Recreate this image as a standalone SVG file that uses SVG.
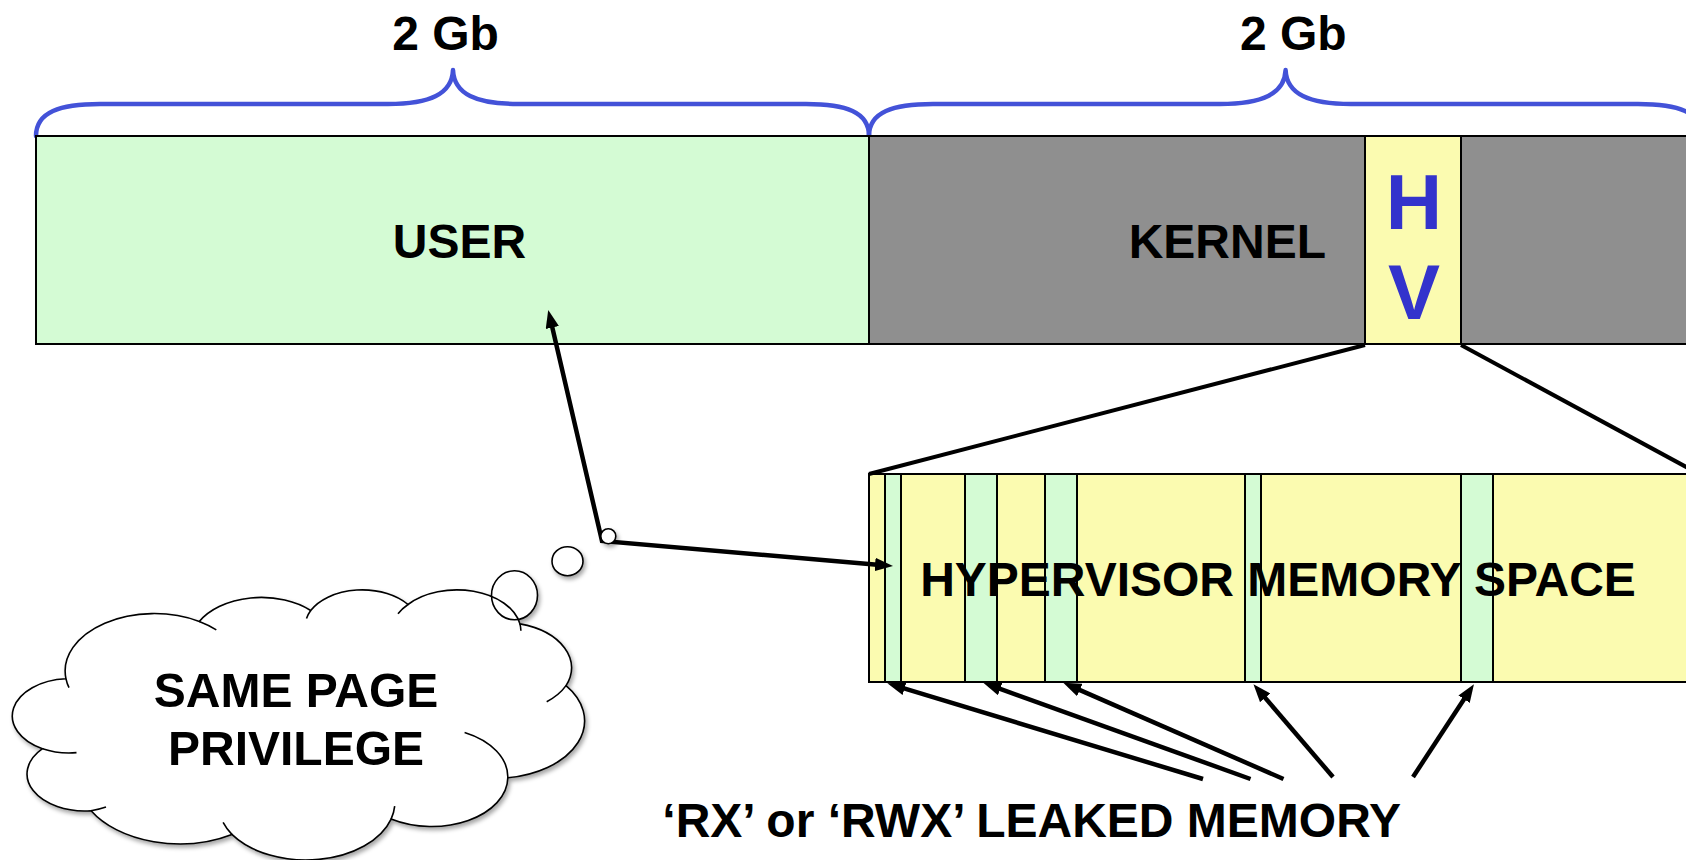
<svg xmlns="http://www.w3.org/2000/svg" width="1686" height="860" viewBox="0 0 1686 860">
  <style>
    .lbl { font-family: "Liberation Sans", Arial, Helvetica, sans-serif; font-weight: bold; font-size: 48px; fill: #000; }
    .hv { font-family: "Liberation Sans", Arial, Helvetica, sans-serif; font-weight: bold; font-size: 78px; fill: #3333cc; text-anchor: middle; }
    .mid { text-anchor: middle; }
    .brace { fill: none; stroke: #4352d8; stroke-width: 4.5; stroke-linecap: round; stroke-linejoin: round; }
    .region { stroke: #000; stroke-width: 2; }
    .user { fill: #d4fbd4; }
    .kernel { fill: #8f8f8f; }
    .hvfill { fill: #fbfbb0; }
    .leak { fill: #d4fbd4; stroke: #000; stroke-width: 2; }
    .zoomline { fill: none; stroke: #000; stroke-width: 4; }
    .arrow { fill: none; stroke: #000; stroke-width: 4.5; stroke-linejoin: miter; }
    .cloud-fill { fill: #fff; stroke: none; }
    .cloud-line { fill: none; stroke: #000; stroke-width: 1.6; }
  </style>
  <defs>
    <marker id="head" viewBox="0 0 8 6" refX="1" refY="3" markerWidth="4" markerHeight="3" orient="auto-start-reverse" markerUnits="strokeWidth">
      <path d="M0,0 L8,3 L0,6 z" fill="#000"/>
    </marker>
    <filter id="soft-shadow" x="-10%" y="-10%" width="120%" height="120%">
      <feDropShadow dx="2" dy="3" stdDeviation="2" flood-color="#000" flood-opacity="0.35"/>
    </filter>
  </defs>

  <!-- size braces and their captions -->
  <g id="brace-user">
    <path class="brace" d="M36 136 C36 112 60 104 100 104 L388 104 C430 104 452 94 453 70 C454 94 476 104 518 104 L806 104 C846 104 869 112 869 136"/>
    <text class="lbl mid" x="445.5" y="50">2 Gb</text>
  </g>
  <g id="brace-kernel">
    <path class="brace" d="M869 136 C869 112 893 104 933 104 L1220 104 C1262 104 1284.6 94 1285.6 70 C1286.6 94 1309 104 1351 104 L1638 104 C1678 104 1702 112 1702 136"/>
    <text class="lbl mid" x="1293.3" y="50">2 Gb</text>
  </g>

  <!-- address space bar -->
  <g id="user-space">
    <rect class="region user" x="36" y="136" width="833" height="208"/>
    <text class="lbl mid" x="459.5" y="258">USER</text>
  </g>
  <g id="kernel-space">
    <rect class="region kernel" x="869" y="136" width="840" height="208"/>
    <text class="lbl mid" x="1227.3" y="258">KERNEL</text>
  </g>
  <g id="hv-slot">
    <rect class="region hvfill" x="1365" y="136" width="96" height="208"/>
    <text class="hv" x="1414" y="229">H</text>
    <text class="hv" x="1414" y="319">V</text>
  </g>

  <!-- expanded hypervisor memory with leaked pages -->
  <g id="hv-memory">
    <rect class="region hvfill" x="869" y="474" width="840" height="208"/>
    <rect class="leak" x="885" y="474" width="16" height="208"/>
    <rect class="leak" x="965" y="474" width="32" height="208"/>
    <rect class="leak" x="1045" y="474" width="32" height="208"/>
    <rect class="leak" x="1245" y="474" width="16" height="208"/>
    <rect class="leak" x="1461" y="474" width="32" height="208"/>
    <text class="lbl mid" x="1278" y="596">HYPERVISOR MEMORY SPACE</text>
  </g>

  <g id="leak-caption">
    <text class="lbl mid" x="1031.7" y="837">‘RX’ or ‘RWX’ LEAKED MEMORY</text>
  </g>

  <!-- connectors -->
  <g id="connectors">
    <line class="zoomline" x1="1365" y1="345" x2="869" y2="474"/>
    <line class="zoomline" x1="1461" y1="345" x2="1701" y2="475"/>
    <path class="arrow" d="M551.8 325.3 L602 541 L877.3 564.7" marker-start="url(#head)" marker-end="url(#head)"/>
    <line class="arrow" x1="1203" y1="779" x2="902.4" y2="687.9" marker-end="url(#head)"/>
    <line class="arrow" x1="1250.5" y1="779" x2="998.1" y2="688.1" marker-end="url(#head)"/>
    <line class="arrow" x1="1283.5" y1="779" x2="1077.7" y2="689.1" marker-end="url(#head)"/>
    <line class="arrow" x1="1333" y1="777" x2="1263.7" y2="696.1" marker-end="url(#head)"/>
    <line class="arrow" x1="1413" y1="777" x2="1465.3" y2="697.3" marker-end="url(#head)"/>
  </g>

  <!-- thought cloud -->
  <g id="cloud" filter="url(#soft-shadow)">
    <path class="cloud-fill" d="M66 678.8 A89 57.4 0 0 1 199.3 621.5 A70.3 45.4 0 0 1 310.7 610.5 A57.6 37.2 0 0 1 408 604.5 A64 41.2 0 0 1 519.9 623.9 A70.3 45.5 0 0 1 566 685.6 A89.3 57.6 0 0 1 507.8 777.8 A76.3 49.2 0 0 1 391.1 819.1 A89 57.6 0 0 1 231.9 834.4 A101.8 65.9 0 0 1 91.1 810.7 A57.5 37 0 0 1 42.5 748.7 A57.3 37.2 0 0 1 66 678.8 Z"/>
    <ellipse class="cloud-fill" cx="514.5" cy="595.3" rx="23" ry="24.5"/>
    <ellipse class="cloud-fill" cx="567.5" cy="561.2" rx="15.5" ry="14.5"/>
    <circle class="cloud-fill" cx="608.3" cy="536.2" r="7.5"/>
    <path class="cloud-line" d="M66 678.8 A89 57.4 0 0 1 199.3 621.5 A70.3 45.4 0 0 1 310.7 610.5 A57.6 37.2 0 0 1 408 604.5 A64 41.2 0 0 1 519.9 623.9 A70.3 45.5 0 0 1 566 685.6 A89.3 57.6 0 0 1 507.8 777.8 A76.3 49.2 0 0 1 391.1 819.1 A89 57.6 0 0 1 231.9 834.4 A101.8 65.9 0 0 1 91.1 810.7 A57.5 37 0 0 1 42.5 748.7 A57.3 37.2 0 0 1 66 678.8 Z"/>
    <path class="cloud-line" d="M76.5 752.6 A57.3 37.2 0 0 1 42.5 748.7 M106 807.1 A57.5 37 0 0 1 91.1 810.7 M231.9 834.4 A89 57.6 0 0 1 223.1 822.4 M394.7 806.2 A89 57.6 0 0 1 391.1 819.1 M464.6 732.5 A76.3 49.2 0 0 1 507.8 777.8 M566 685.6 A70.3 45.5 0 0 1 546.7 701.7 M519.9 623.9 A64 41.2 0 0 1 520.9 630.8 M398 613.7 A64 41.2 0 0 1 408 604.5 M306.5 618.5 A57.6 37.2 0 0 1 310.7 610.5 M199.3 621.5 A89 57.4 0 0 1 216.3 629.9 M69 687.7 A89 57.4 0 0 1 66 678.8"/>
    <ellipse class="cloud-line" cx="514.5" cy="595.3" rx="23" ry="24.5"/>
    <ellipse class="cloud-line" cx="567.5" cy="561.2" rx="15.5" ry="14.5"/>
    <circle class="cloud-line" cx="608.3" cy="536.2" r="7.5"/>
    <text class="lbl mid" x="296" y="707">SAME PAGE</text>
    <text class="lbl mid" x="296" y="765">PRIVILEGE</text>
  </g>
</svg>
